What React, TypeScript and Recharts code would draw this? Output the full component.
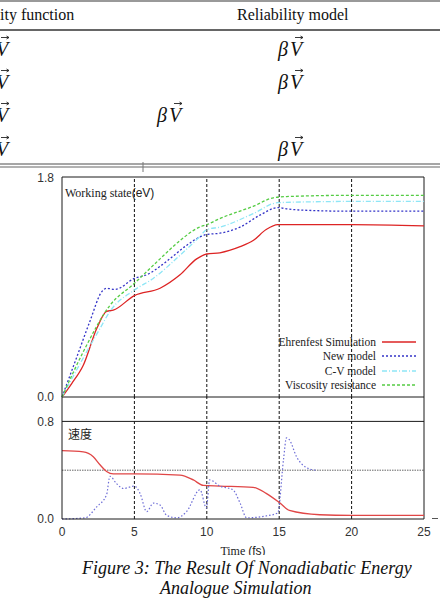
import React from 'react';
import { LineChart, Line, XAxis, YAxis, ReferenceLine } from 'recharts';

// ---- axis ticks ----
const timeTicks = [0, 5, 10, 15, 20, 25];
const gridTimes = [5, 10, 15, 20];
const energyTicks = [0, 1.8];
const speedTicks = [0, 0.8];

// ---- upper panel: working state (eV) ----
const ehrenfestT = [0, 0.67, 1.47, 2.4, 3.08, 3.54, 5, 6.77, 8.15, 9.3, 10, 10.9, 12.3, 13.2, 14.1, 14.9, 17, 20, 25];
const ehrenfestV = [0, 0.11, 0.26, 0.56, 0.7, 0.71, 0.83, 0.89, 1.0, 1.13, 1.17, 1.18, 1.23, 1.28, 1.37, 1.41, 1.41, 1.41, 1.4];

const newModelT = [0, 1.0, 1.93, 2.74, 3.08, 3.66, 5, 5.85, 7.23, 8.6, 9.53, 10, 10.9, 12.3, 13.7, 14.9, 15.5, 16.4, 20, 25];
const newModelV = [0, 0.32, 0.62, 0.86, 0.89, 0.88, 0.97, 1.0, 1.11, 1.24, 1.31, 1.33, 1.34, 1.39, 1.49, 1.55, 1.54, 1.53, 1.52, 1.52];

const cvModelT = [0, 1.47, 2.62, 3.31, 5, 6.3, 8.15, 9.5, 10, 10.9, 13.2, 14.9, 20, 25];
const cvModelV = [0, 0.32, 0.56, 0.7, 0.875, 0.97, 1.16, 1.31, 1.37, 1.39, 1.5, 1.59, 1.6, 1.6];

const viscosityT = [0, 1.47, 3.31, 5, 6.77, 8.15, 9.5, 10, 10.9, 13.2, 14.6, 15.5, 20, 25];
const viscosityV = [0, 0.37, 0.75, 0.93, 1.13, 1.28, 1.39, 1.41, 1.46, 1.56, 1.63, 1.64, 1.65, 1.65];

// ---- lower panel: 速度 ----
const speedRedT = [0, 1.47, 2.16, 2.62, 3.08, 3.54, 5, 8.15, 9.07, 9.76, 10.9, 13.2, 14.1, 15.06, 15.7, 17.8, 20, 25];
const speedRedV = [0.56, 0.55, 0.51, 0.445, 0.39, 0.37, 0.37, 0.36, 0.32, 0.275, 0.27, 0.26, 0.21, 0.13, 0.07, 0.035, 0.03, 0.03];

const speedBlueT = [0, 1.6, 2.4, 3.08, 3.31, 3.77, 4.24, 5, 5.39, 5.85, 6.31, 6.77, 7.23, 7.92, 8.6, 9.53, 9.97, 10.2, 10.9, 11.8, 12.3, 12.75, 14.1, 14.9, 15.3, 15.5, 15.7, 16.2, 16.9, 17.5];
const speedBlueV = [0, 0.01, 0.1, 0.2, 0.35, 0.29, 0.25, 0.27, 0.21, 0.06, 0.13, 0.115, 0.03, 0.01, 0.06, 0.24, 0.09, 0.32, 0.27, 0.24, 0.13, 0.01, 0.025, 0.05, 0.49, 0.665, 0.65, 0.51, 0.42, 0.4];

const speedReference = 0.4;

const zip = (t: number[], v: number[]) => t.map((x, i) => ({ t: x, v: v[i] }));

const SERIF = "'Liberation Serif', 'Times New Roman', serif";
const SANS = "'Liberation Sans', Arial, sans-serif";
const CJK = "'Noto Sans CJK SC', sans-serif";

const series = [
  { name: 'Ehrenfest Simulation', data: zip(ehrenfestT, ehrenfestV), color: '#dd2424', dash: undefined as string | undefined, width: 1.3 },
  { name: 'New model', data: zip(newModelT, newModelV), color: '#3434c8', dash: '2 2', width: 1.3 },
  { name: 'C-V model', data: zip(cvModelT, cvModelV), color: '#8ee6f6', dash: '5 2 1 2', width: 1.3 },
  { name: 'Viscosity resistance', data: zip(viscosityT, viscosityV), color: '#55cc44', dash: '3 2', width: 1.3 },
];

const speedSeries = [
  { name: 'Ehrenfest Simulation', data: zip(speedRedT, speedRedV), color: '#e04646', dash: undefined as string | undefined, width: 1.3 },
  { name: 'New model', data: zip(speedBlueT, speedBlueV), color: '#6c6cd6', dash: '1.5 2', width: 1.2 },
];

const AXIS = '#1a1a1a';
const tickStyle = { fill: '#333', fontSize: 12, fontFamily: SANS };

function LegendBox() {
  return (
    <div style={{ display: 'flex', flexDirection: 'column', alignItems: 'flex-end' }}>
      {series.map((s) => (
        <div key={s.name} style={{ display: 'flex', alignItems: 'center', height: 14.5 }}>
          <span style={{ fontFamily: SERIF, fontSize: 11.5, color: '#222', lineHeight: '14px' }}>{s.name}</span>
          <svg width={40} height={6} style={{ marginLeft: 4 }}>
            <line x1={2} y1={3} x2={36} y2={3} stroke={s.color} strokeWidth={1.3} strokeDasharray={s.dash} />
          </svg>
        </div>
      ))}
    </div>
  );
}

function VecV({ x, y }: { x: number; y: number }) {
  return (
    <g>
      <text x={x} y={y} fontFamily={SERIF} fontStyle="italic" fontSize={20} fill="#111">V</text>
      <path d={`M${x + 5} ${y - 18.5} H${x + 13} M${x + 10.5} ${y - 20} L${x + 13} ${y - 18.5} L${x + 10.5} ${y - 17}`} stroke="#222" strokeWidth={0.9} fill="none" />
    </g>
  );
}

function BetaV({ x, y }: { x: number; y: number }) {
  return (
    <g>
      <text x={x} y={y} fontFamily={SERIF} fontStyle="italic" fontSize={20} fill="#111">β</text>
      <VecV x={x + 12} y={y} />
    </g>
  );
}

const rowBaselines = [56, 89, 122, 156];
const betaColumn = [278, 278, 157, 278];

export default function App() {
  return (
    <div style={{ position: 'absolute', left: 0, top: 0, width: 440, height: 602, background: '#fff', overflow: 'hidden' }}>
      <svg width={440} height={602} style={{ position: 'absolute', left: 0, top: 0 }}>
        {/* table fragment */}
        <line x1={0} y1={1} x2={440} y2={1} stroke="#999" strokeWidth={2} />
        <text x={0} y={20} fontFamily={SERIF} fontSize={16} fill="#111">ity function</text>
        <text x={237} y={20} fontFamily={SERIF} fontSize={16} fill="#111">Reliability model</text>
        <line x1={0} y1={30} x2={440} y2={30} stroke="#666" strokeWidth={2} />
        {rowBaselines.map((y, i) => (
          <g key={i}>
            <VecV x={-4} y={y} />
            <BetaV x={betaColumn[i]} y={y} />
          </g>
        ))}
        <line x1={0} y1={164} x2={440} y2={164} stroke="#888" strokeWidth={1.3} />
        <line x1={0} y1={167} x2={440} y2={167} stroke="#999" strokeWidth={1.3} />
        <line x1={143} y1={162} x2={143} y2={172} stroke="#777" strokeWidth={1} />
        <line x1={432} y1={518.5} x2={438} y2={518.5} stroke="#555" strokeWidth={1} />

        {/* caption */}
        <text x={82} y={574} fontFamily={SERIF} fontStyle="italic" fontSize={18} fill="#111">
          Figure 3: The Result Of Nonadiabatic Energy
        </text>
        <text x={160} y={594} fontFamily={SERIF} fontStyle="italic" fontSize={18} fill="#111">
          Analogue Simulation
        </text>
      </svg>

      {/* upper panel */}
      <div style={{ position: 'absolute', left: 0, top: 170 }}>
        <LineChart width={440} height={240} margin={{ top: 7, right: 16, bottom: 13, left: 0 }}>
          <XAxis dataKey="t" type="number" domain={[0, 25]} ticks={timeTicks} hide />
          <YAxis
            type="number"
            domain={[0, 1.8]}
            ticks={energyTicks}
            width={62}
            tickFormatter={(v: number) => v.toFixed(1)}
            tick={tickStyle}
            tickLine={false}
            axisLine={{ stroke: AXIS, strokeWidth: 1 }}
            label={{
              content: (props: any) => {
                const vb = props.viewBox || { x: 0, y: 177, width: 62 };
                return (
                  <text x={vb.x + vb.width + 3} y={vb.y + 20} fill="#222" fontSize={12}>
                    <tspan fontFamily={SERIF}>Working state</tspan>
                    <tspan fontFamily={SANS}>(eV)</tspan>
                  </text>
                );
              },
            }}
          />
          {gridTimes.map((t) => (
            <ReferenceLine key={t} x={t} stroke="#111" strokeDasharray="3 2" strokeWidth={1} />
          ))}
          <ReferenceLine y={1.8} stroke={AXIS} strokeWidth={1} />
          <ReferenceLine y={0} stroke={AXIS} strokeWidth={1} />
          <ReferenceLine x={25} stroke={AXIS} strokeWidth={1} />
          {series.map((s) => (
            <Line
              key={s.name}
              data={s.data}
              dataKey="v"
              name={s.name}
              type="monotone"
              stroke={s.color}
              strokeWidth={s.width}
              strokeDasharray={s.dash}
              dot={false}
              activeDot={false}
              isAnimationActive={false}
            />
          ))}
        </LineChart>
      </div>

      {/* legend of the upper panel */}
      <div style={{ position: 'absolute', left: 200, top: 334.5, width: 220 }}>
        <LegendBox />
      </div>

      {/* lower panel */}
      <div style={{ position: 'absolute', left: 0, top: 390 }}>
        <LineChart width={440} height={165} margin={{ top: 7, right: 16, bottom: 6, left: 0 }}>
          <XAxis
            dataKey="t"
            type="number"
            domain={[0, 25]}
            ticks={timeTicks}
            height={30}
            tick={tickStyle}
            tickLine={false}
            axisLine={{ stroke: AXIS, strokeWidth: 1 }}
            label={{
              content: (props: any) => {
                const vb = props.viewBox || { x: 62, y: 519, width: 362, height: 30 };
                return (
                  <text x={vb.x + vb.width / 2} y={vb.y + 36} textAnchor="middle" fill="#222" fontSize={12}>
                    <tspan fontFamily={SERIF}>Time </tspan>
                    <tspan fontFamily={SANS}>(fs)</tspan>
                  </text>
                );
              },
            }}
          />
          <YAxis
            type="number"
            domain={[0, 1]}
            ticks={speedTicks}
            width={62}
            tickFormatter={(v: number) => v.toFixed(1)}
            tick={tickStyle}
            tickLine={false}
            axisLine={{ stroke: AXIS, strokeWidth: 1 }}
            label={{
              content: (props: any) => {
                const vb = props.viewBox || { x: 0, y: 397, width: 62 };
                return (
                  <text x={vb.x + vb.width + 6} y={vb.y + 42} fill="#222" fontSize={12} fontFamily={CJK}>
                    速度
                  </text>
                );
              },
            }}
          />
          {gridTimes.map((t) => (
            <ReferenceLine key={t} x={t} stroke="#111" strokeDasharray="3 2" strokeWidth={1} />
          ))}
          <ReferenceLine y={0.8} stroke={AXIS} strokeWidth={1} />
          <ReferenceLine y={speedReference} stroke="#666" strokeDasharray="1.5 1" strokeWidth={1} />
          <ReferenceLine x={25} stroke={AXIS} strokeWidth={1} />
          {speedSeries.map((s) => (
            <Line
              key={s.name}
              data={s.data}
              dataKey="v"
              name={s.name}
              type="monotone"
              stroke={s.color}
              strokeWidth={s.width}
              strokeDasharray={s.dash}
              dot={false}
              activeDot={false}
              isAnimationActive={false}
            />
          ))}
        </LineChart>
      </div>
    </div>
  );
}
